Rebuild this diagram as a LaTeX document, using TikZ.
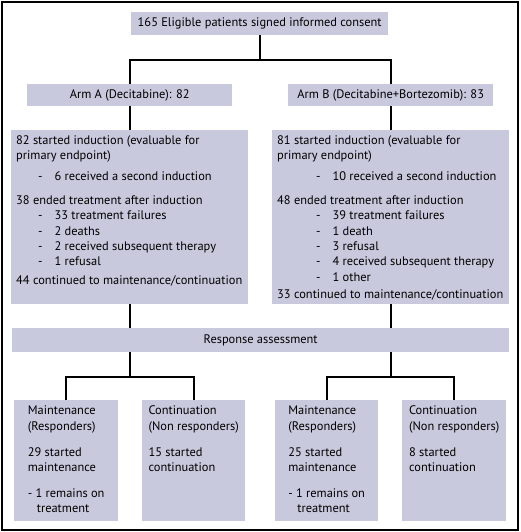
\documentclass[tikz,border=0pt]{standalone}
\usepackage{fontspec}
\setmainfont{PT Sans}
\definecolor{boxfill}{RGB}{200,201,221}
\tikzstyle{panel} = [fill=boxfill, rectangle, inner sep=0pt, anchor=north west,
    font=\fontsize{12.4}{15.4}\selectfont]
\tikzstyle{link} = [draw=black, line width=1.6pt]
% dash item: indent of the dash, gap to the text
\newcommand{\dashitem}[3]{\hspace*{#1}-\hspace{#2}#3}
\newcommand{\toppanel}[3]{\parbox[c][#2][t]{#1}{\raggedright\vspace*{5pt}#3}}

\begin{document}
\begin{tikzpicture}[x=1pt, y=-1pt]
    \useasboundingbox (0,0) rectangle (520,532);
    \draw[line width=2pt] (2,2) rectangle (518,530);

    \node[panel, minimum width=257pt, minimum height=23pt] (consent) at (131,12)
        {165 Eligible patients signed informed consent};

    \node[panel, minimum width=205pt, minimum height=22pt] (armA) at (27,84)
        {Arm A (Decitabine): 82};
    \node[panel, minimum width=205pt, minimum height=22pt] (armB) at (288,84)
        {Arm B (Decitabine+Bortezomib): 83};

    \node[panel, inner xsep=5pt] (indA) at (11,130) {%
        \toppanel{227pt}{174pt}{%
            82 started induction (evaluable for\\
            primary endpoint)\\[5.5pt]
            \dashitem{22pt}{12pt}{6 received a second induction}\\[8.5pt]
            38 ended treatment after induction\\
            \dashitem{22pt}{12pt}{33 treatment failures}\\
            \dashitem{22pt}{12pt}{2 deaths}\\
            \dashitem{22pt}{12pt}{2 received subsequent therapy}\\
            \dashitem{22pt}{12pt}{1 refusal}\\[3pt]
            44 continued to maintenance/continuation}};
    \node[panel, inner xsep=5pt] (indB) at (272,130) {%
        \toppanel{227pt}{174pt}{%
            81 started induction (evaluable for\\
            primary endpoint)\\[5.5pt]
            \dashitem{39pt}{12pt}{10 received a second induction}\\[8.5pt]
            48 ended treatment after induction\\
            \dashitem{39pt}{12pt}{39 treatment failures}\\
            \dashitem{39pt}{12pt}{1 death}\\
            \dashitem{39pt}{12pt}{3 refusal}\\
            \dashitem{39pt}{12pt}{4 received subsequent therapy}\\
            \dashitem{39pt}{12pt}{1 other}\\[1.5pt]
            33 continued to maintenance/continuation}};

    \node[panel, minimum width=497pt, minimum height=24pt] (response) at (12,328)
        {Response assessment};

    % second line of panels
    \node[panel] (maintA) at (14,400) {%
        \parbox[c][121pt][t]{104pt}{\vspace*{4pt}\centering
        \begin{tabular}[t]{@{}l@{}}
            Maintenance\\ (Responders)\\[10.5pt]
            29 started\\ maintenance\\[10.5pt]
            - 1 remains on\\ \hspace*{9pt}treatment
        \end{tabular}}};
    \node[panel] (contA) at (142,400) {%
        \parbox[c][121pt][t]{103pt}{\vspace*{4pt}\centering
        \begin{tabular}[t]{@{}l@{}}
            Continuation\\ (Non responders)\\[10.5pt]
            15 started\\ continuation
        \end{tabular}}};
    \node[panel] (maintB) at (275,400) {%
        \parbox[c][121pt][t]{103pt}{\vspace*{4pt}\centering
        \begin{tabular}[t]{@{}l@{}}
            Maintenance\\ (Responders)\\[10.5pt]
            25 started\\ maintenance\\[10.5pt]
            - 1 remains on\\ \hspace*{9pt}treatment
        \end{tabular}}};
    \node[panel] (contB) at (402,400) {%
        \parbox[c][121pt][t]{104pt}{\vspace*{4pt}\centering
        \begin{tabular}[t]{@{}l@{}}
            Continuation\\ (Non responders)\\[10.5pt]
            8 started\\ continuation
        \end{tabular}}};

    % connectors
    \coordinate (split) at (consent.south |- 0,60);
    \coordinate (forkA) at (indA.south |- 0,377);
    \coordinate (forkB) at (indB.south |- 0,377);
    \draw[link] (consent.south) -- (split);
    \draw[link] (armA.north) |- (split) -| (armB.north);
    \draw[link] (armA.south) -- (indA.north);
    \draw[link] (armB.south) -- (indB.north);
    \draw[link] (indA.south) -- (indA.south |- response.north);
    \draw[link] (indB.south) -- (indB.south |- response.north);
    \draw[link] (indA.south |- response.south) -- (forkA);
    \draw[link] (indB.south |- response.south) -- (forkB);
    \draw[link] (maintA.north) |- (forkA) -| (contA.north);
    \draw[link] (maintB.north) |- (forkB) -| (contB.north);
\end{tikzpicture}
\end{document}
